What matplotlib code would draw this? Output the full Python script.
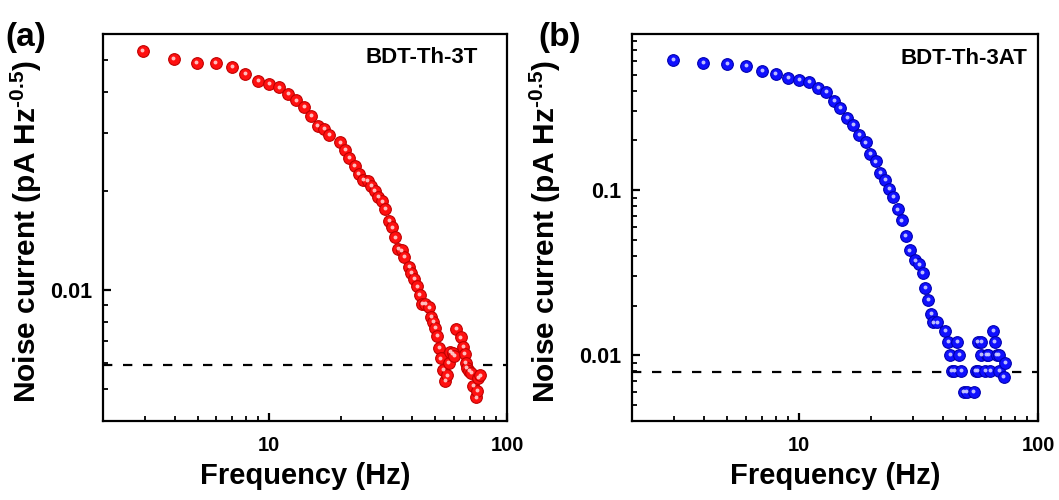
import matplotlib
matplotlib.use("Agg")
import matplotlib.pyplot as plt
import matplotlib.ticker as mticker
import matplotlib.transforms as mtransforms

plt.rcParams['font.family'] = ['Liberation Sans', 'DejaVu Sans']
plt.rcParams['font.weight'] = 'bold'
plt.rcParams['mathtext.fontset'] = 'custom'
plt.rcParams['mathtext.rm'] = 'Liberation Sans:bold'
plt.rcParams['mathtext.bf'] = 'Liberation Sans:bold'
plt.rcParams['mathtext.it'] = 'Liberation Sans:bold'

# ---- data: panel (a) BDT-Th-3T ----
freq_a = [2.94, 3.96, 4.95, 5.95, 6.97, 7.93, 9.0, 10.0, 11.0, 12.0, 13.0, 14.0, 15.0, 16.0, 17.0, 17.9,
          19.9, 20.9, 21.7, 22.9, 23.8, 24.9, 26.0, 26.8, 27.8, 28.8, 29.8, 30.8, 32.0, 32.9, 33.9, 34.9,
          36.1, 36.9, 38.7, 39.6, 40.8, 42.0, 43.0, 44.0, 45.2, 47.2, 48.0, 48.9, 49.8, 50.9, 51.9, 52.6,
          54.0, 55.0, 56.0, 56.9, 57.8, 59.1, 60.0, 61.2, 63.9, 65.3, 66.4, 67.0, 67.7, 69.4, 70.8, 72.2,
          74.1, 74.8, 75.7, 77.0]
noise_a = [0.0533, 0.0504, 0.049, 0.0489, 0.0476, 0.0454, 0.0433, 0.0424, 0.0413, 0.0394, 0.0377, 0.036,
           0.0339, 0.0316, 0.0308, 0.0296, 0.0281, 0.0266, 0.0252, 0.0238, 0.0225, 0.0216, 0.0215, 0.0207,
           0.02, 0.0192, 0.0186, 0.0176, 0.0162, 0.0155, 0.01446, 0.0133, 0.0132, 0.0126, 0.01177, 0.01129,
           0.0108, 0.01026, 0.00966, 0.00905, 0.00905, 0.00886, 0.00828, 0.00798, 0.00768, 0.00726, 0.00668,
           0.0062, 0.00571, 0.00529, 0.0055, 0.00601, 0.0065, 0.00642, 0.00631, 0.0076, 0.00718, 0.00671,
           0.00639, 0.00601, 0.00581, 0.00569, 0.0056, 0.00512, 0.00472, 0.00493, 0.0054, 0.0055]
floor_a = 0.0059

# ---- data: panel (b) BDT-Th-3AT ----
freq_b = [2.97, 3.97, 5, 6, 7, 8, 9, 10, 11, 12, 13, 14, 14.9, 15.9, 16.9, 17.9, 19, 19.9, 20.9, 21.9,
          22.9, 23.9, 24.8, 25.9, 26.9, 27.9, 29, 30.6, 31.8, 32.9, 33.8, 34.8, 35.8, 36.5, 37.9, 40.9,
          42, 42.8, 43.6, 44.7, 45.9, 46.7, 47.7, 48.8, 50.4, 53.9, 54.8, 56, 56, 58, 58, 60, 60.9, 61.9,
          63, 65, 65.8, 67.3, 68.4, 69, 71.8, 73]
noise_b = [0.614, 0.589, 0.58, 0.562, 0.524, 0.502, 0.475, 0.462, 0.45, 0.415, 0.393, 0.346, 0.314, 0.272,
           0.247, 0.215, 0.194, 0.1645, 0.149, 0.1274, 0.1156, 0.101, 0.0907, 0.0764, 0.0655, 0.053, 0.0431,
           0.0375, 0.0355, 0.0314, 0.0255, 0.0217, 0.0178, 0.0158, 0.0158, 0.014, 0.012, 0.01, 0.008, 0.008,
           0.012, 0.01, 0.008, 0.006, 0.006, 0.006, 0.008, 0.008, 0.012, 0.012, 0.01, 0.008, 0.01, 0.01,
           0.008, 0.014, 0.012, 0.01, 0.01, 0.008, 0.0074, 0.009]
floor_b = 0.0079

x_ticks = [10, 100]
x_ticklabels = ["10", "100"]
y_ticks_a = [0.01]
y_ticks_b = [0.01, 0.1]

fig = plt.figure(figsize=(10.59, 5.0), dpi=100)
ax_a = fig.add_axes([103/1059, 1-421/500, 404/1059, 387/500])
ax_b = fig.add_axes([632/1059, 1-421/500, 406/1059, 387/500])


def sphere(ax, x, y, face, edge, hi):
    ax.plot(x, y, 'o', ms=8.4, mfc=face, mec=edge, mew=0.8, ls='none', zorder=3)
    off = mtransforms.offset_copy(ax.transData, fig=ax.figure, x=-0.3, y=0.6, units='points')
    ax.plot(x, y, 'o', ms=2.8, mfc=hi, mec='none', ls='none', zorder=4, transform=off, alpha=0.9)


def style(ax, ylim, yticks):
    ax.set_xscale('log')
    ax.set_yscale('log')
    ax.set_xlim(2, 100)
    ax.set_ylim(*ylim)
    for s in ax.spines.values():
        s.set_linewidth(1.6)
    ax.xaxis.set_major_locator(mticker.FixedLocator(x_ticks))
    ax.xaxis.set_major_formatter(mticker.FixedFormatter(x_ticklabels))
    ax.xaxis.set_minor_locator(mticker.LogLocator(base=10, subs=range(2, 10)))
    ax.xaxis.set_minor_formatter(mticker.NullFormatter())
    ax.yaxis.set_major_locator(mticker.FixedLocator(yticks))
    ax.yaxis.set_major_formatter(mticker.FuncFormatter(lambda v, p: f"{v:g}"))
    ax.yaxis.set_minor_locator(mticker.LogLocator(base=10, subs=range(2, 10)))
    ax.yaxis.set_minor_formatter(mticker.NullFormatter())
    ax.tick_params(which='major', direction='in', length=6, width=1.6, top=False, right=False)
    ax.tick_params(which='minor', direction='in', length=3.5, width=1.3, top=False, right=False)
    ax.tick_params(axis='x', labelsize=14.5, pad=11)
    ax.tick_params(axis='y', labelsize=15.5, pad=8)
    ax.set_xlabel("Frequency (Hz)", fontsize=21, fontweight='bold', labelpad=5)
    ax.set_ylabel(r"Noise current (pA Hz$^{\text{-0.5}}$)", fontsize=21.5, fontweight='bold')


sphere(ax_a, freq_a, noise_a, '#ff1010', '#c00000', '#ffd0d0')
ax_a.axhline(floor_a, color='black', lw=1.6, ls=(0, (4.2, 4.8)), zorder=2)
style(ax_a, (0.004, 0.06), y_ticks_a)
ax_a.yaxis.set_label_coords(-0.146, 0.49)
ax_a.text(0.928, 0.966, "BDT-Th-3T", transform=ax_a.transAxes, ha='right', va='top',
          fontsize=16, fontweight='bold')

sphere(ax_b, freq_b, noise_b, '#1010ff', '#0000b0', '#d0d0ff')
ax_b.axhline(floor_b, color='black', lw=1.6, ls=(0, (4.2, 4.8)), zorder=2)
style(ax_b, (0.004, 0.88), y_ticks_b)
ax_b.yaxis.set_label_coords(-0.17, 0.49)
ax_b.text(0.975, 0.964, "BDT-Th-3AT", transform=ax_b.transAxes, ha='right', va='top',
          fontsize=16, fontweight='bold')

fig.text(5/1059, 1-46/500, "(a)", fontsize=24, fontweight='bold', ha='left', va='baseline')
fig.text(538/1059, 1-46/500, "(b)", fontsize=24, fontweight='bold', ha='left', va='baseline')

fig.savefig("out.png", dpi=100)
